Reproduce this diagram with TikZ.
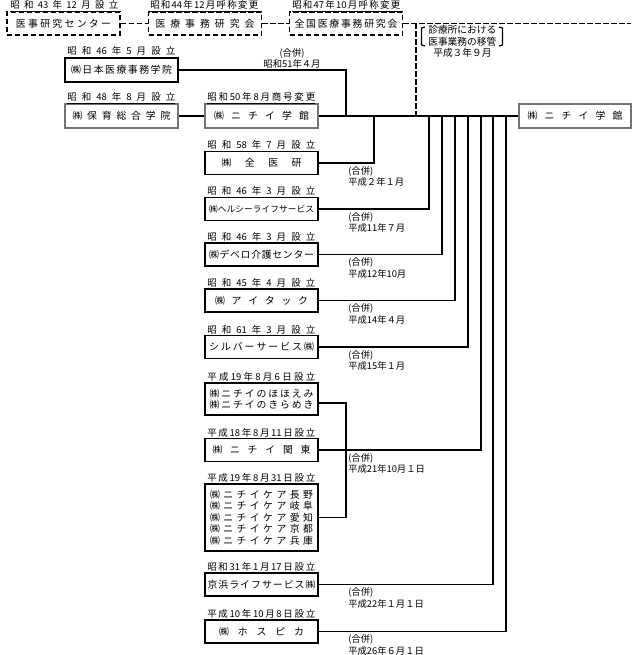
\documentclass[tikz,border=0pt]{standalone}
\usepackage{fontspec}
\newfontfamily\jp{Noto Sans CJK JP}
\newlength\pxu
\setlength\pxu{0.75pt}
\newcommand\spr[2]{\makebox[#1\pxu][s]{\spaceskip=0pt plus 1fil\relax #2}}
\newcommand\ul[1]{\underline{\spr{108}{#1}}}
\begin{document}
\begin{tikzpicture}[x=0.75pt,y=-0.75pt,
  box/.style={draw, line width=1.1pt, inner sep=0pt, minimum width={113*0.75pt}, minimum height={23*0.75pt}, font=\jp\fontsize{7.4}{8.6}\selectfont, align=center},
  dbox/.style={box, dash pattern=on 4pt off 2pt},
  gbox/.style={box, draw=black!55, line width=2pt, minimum height={24*0.75pt}},
  lab/.style={anchor=base west, inner sep=0pt, font=\jp\fontsize{7.1}{8}\selectfont},
  mrg/.style={anchor=north west, inner sep=0pt, align=left, font=\jp\fontsize{7}{8.6}\selectfont},
  link/.style={line width=1.1pt},
  dlink/.style={line width=1.1pt, dash pattern=on 4pt off 2pt}]
\useasboundingbox (0,0) rectangle (640,655);
% top row (dashed)
\node[dbox] (b1) at (63.5,23.5) {\spr{95}{医 事 研 究 セ ン タ ー}};
\node[dbox] (b2) at (205,23.5) {\spr{99}{医 療 事 務 研 究 会}};
\node[dbox] (b3) at (346,23.5) {\spr{103}{全 国 医 療 事 務 研 究 会}};
\node[lab] (l1) at (10,9) {\ul{昭 和 43 年 12 月 設 立}};
\node[lab] (l2) at (150,9) {\ul{昭 和 44 年 12 月 呼 称 変 更}};
\node[lab] (l3) at (292,9) {\ul{昭 和 47 年 10 月 呼 称 変 更}};
% second rows
\node[box, minimum height={24*0.75pt}] (b4) at (121.5,70) {\spr{101}{㈱ 日 本 医 療 事 務 学 院}};
\node[lab] (l4) at (67,55) {\ul{昭 和 46 年 5 月 設 立}};
\node[gbox] (b5) at (121.5,116) {\spr{98}{㈱ 保 育 総 合 学 院}};
\node[lab] (l5) at (67,101) {\ul{昭 和 48 年 8 月 設 立}};
\node[gbox] (b6) at (261.5,116) {\spr{95}{㈱ ニ チ イ 学 館}};
\node[lab] (l6) at (207,101) {\ul{昭 和 50 年 8 月 商 号 変 更}};
\node[gbox, minimum width={112*0.75pt}] (b7) at (575,116) {\spr{95}{㈱ ニ チ イ 学 館}};
% left column
\node[box] (c1) at (261.5,163) {\spr{80}{㈱ 全 医 研}};
\node[lab] (k1) at (207,149) {\ul{昭 和 58 年 7 月 設 立}};
\node[box, font=\jp\fontsize{6.5}{8}\selectfont] (c2) at (261.5,209) {\spr{105}{㈱ ヘ ル シ ー ラ イ フ サ ー ビ ス}};
\node[lab] (k2) at (207,195) {\ul{昭 和 46 年 3 月 設 立}};
\node[box] (c3) at (261.5,254.5) {\spr{105}{㈱ デ ベ ロ 介 護 セ ン タ ー}};
\node[lab] (k3) at (207,240.5) {\ul{昭 和 46 年 3 月 設 立}};
\node[box] (c4) at (261.5,300.5) {\spr{93}{㈱ ア イ タ ッ ク}};
\node[lab] (k4) at (207,286.5) {\ul{昭 和 45 年 4 月 設 立}};
\node[box] (c5) at (261.5,347) {\spr{105}{シ ル バ ー サ ー ビ ス ㈱}};
\node[lab] (k5) at (207,333) {\ul{昭 和 61 年 3 月 設 立}};
\node[box, minimum height={32*0.75pt}] (c6) at (261.5,399) {\spr{104}{㈱ ニ チ イ の ほ ほ え み}\\\spr{104}{㈱ ニ チ イ の き ら め き}};
\node[lab] (k6) at (207,380) {\ul{平 成 19 年 8 月 6 日 設 立}};
\node[box] (c7) at (261.5,450) {\spr{98}{㈱ ニ チ イ 関 東}};
\node[lab] (k7) at (207,436) {\ul{平 成 18 年 8 月 11 日 設 立}};
\node[box, minimum height={67*0.75pt}] (c8) at (261.5,517.5) {\spr{103}{㈱ ニ チ イ ケ ア 長 野}\\\spr{103}{㈱ ニ チ イ ケ ア 岐 阜}\\\spr{103}{㈱ ニ チ イ ケ ア 愛 知}\\\spr{103}{㈱ ニ チ イ ケ ア 京 都}\\\spr{103}{㈱ ニ チ イ ケ ア 兵 庫}};
\node[lab] (k8) at (207,481) {\ul{平 成 19 年 8 月 31 日 設 立}};
\node[box] (c9) at (261.5,584.5) {\spr{108}{京 浜 ラ イ フ サ ー ビ ス ㈱}};
\node[lab] (k9) at (207,570) {\ul{昭 和 31 年 1 月 17 日 設 立}};
\node[box] (c10) at (261.5,631.5) {\spr{85}{㈱ ホ ス ピ カ}};
\node[lab] (k10) at (207,617) {\ul{平 成 10 年 10 月 8 日 設 立}};
% trunk coordinates
\coordinate (t0) at (346,116);
\coordinate (t1) at (374,116);
\coordinate (t2) at (429,116);
\coordinate (t3) at (442,116);
\coordinate (t4) at (455,116);
\coordinate (t5) at (468,116);
\coordinate (t6) at (481,116);
\coordinate (t7) at (493,116);
\coordinate (t8) at (506,116);
\coordinate (d0) at (416,23.5);
\coordinate (d1) at (416,116);
\coordinate (d2) at (631,23.5);
\coordinate (j1) at (346,403);
% dashed connectors
\draw[dlink] (b1.east) -- (b2.west);
\draw[dlink] (b2.east) -- (b3.west);
\draw[dlink] (b3.east) -- (d2);
\draw[dlink] (d0) -- (d1);
% solid connectors
\draw[link] (b5.east) -- (b6.west);
\draw[link] (b6.east) -- (b7.west);
\draw[link] (b4.east) -| (t0);
\draw[link] (c1.east) -| (t1);
\draw[link] (c2.east) -| (t2);
\draw[link] (c3.east) -| (t3);
\draw[link] (c4.east) -| (t4);
\draw[link] (c5.east) -| (t5);
\draw[link] (c7.east) -| (t6);
\draw[link] (c9.east) -| (t7);
\draw[link] (c10.east) -| (t8);
\draw[link] ([yshift=-3pt]c6.east) -- (j1) |- (c8.east);
% note
\node[mrg, font=\jp\fontsize{7.3}{8.8}\selectfont] (n1) at (428,25) {診療所における\\医事業務の移管};
\node[mrg, font=\jp\fontsize{7.3}{8.8}\selectfont] (n2) at (433,48) {平成３年９月};
\draw[line width=0.9pt] (425,27) -- (421.5,28) -- (421.5,45) -- (425,46);
\draw[line width=0.9pt] (499,27) -- (502.5,28) -- (502.5,45) -- (499,46);
% merger labels
\node[inner sep=0pt, align=center, font=\jp\fontsize{7}{8.3}\selectfont] (m0) at (292,58) {(合併)\\昭和51年４月};
\node[mrg] (m1) at (348,166) {(合併)\\平成２年１月};
\node[mrg] (m2) at (348,212) {(合併)\\平成11年７月};
\node[mrg] (m3) at (348,257.5) {(合併)\\平成12年10月};
\node[mrg] (m4) at (348,303.5) {(合併)\\平成14年４月};
\node[mrg] (m5) at (348,350) {(合併)\\平成15年１月};
\node[mrg] (m6) at (348,453) {(合併)\\平成21年10月１日};
\node[mrg] (m7) at (348,587.5) {(合併)\\平成22年１月１日};
\node[mrg] (m8) at (348,634.5) {(合併)\\平成26年６月１日};
\end{tikzpicture}
\end{document}
